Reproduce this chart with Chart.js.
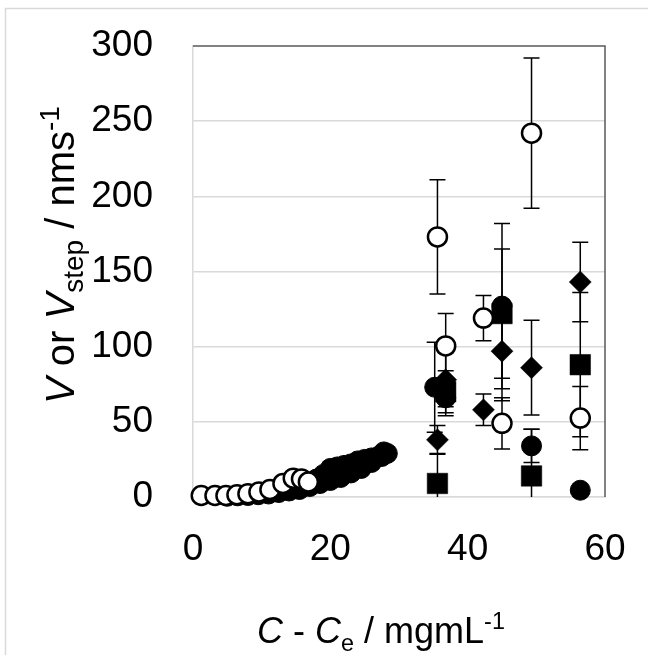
<!DOCTYPE html>
<html>
<head>
<meta charset="utf-8">
<script src="https://cdn.jsdelivr.net/npm/chart.js@4.4.0/dist/chart.umd.min.js"></script>
<style>
  html, body { margin: 0; padding: 0; background: #fff; }
  #wrap { width: 648px; height: 655px; position: relative; }
</style>
</head>
<body>
<div id="wrap"><canvas id="c" width="648" height="655"></canvas></div>
<script>
// ---- Data ----
const xTicks = [0, 20, 40, 60];
const yTicks = [0, 50, 100, 150, 200, 250, 300];

// Open circles
const ocX   = [1.2, 3.2, 4.8, 6.4, 8.0, 9.6, 11.2, 13.1, 14.6, 15.8, 16.8,
               35.6, 36.8, 42.3, 45, 49.3, 56.4];
const ocY   = [1, 1, 1, 1.5, 2.2, 3.3, 5, 9, 12.5, 12, 10,
               173, 100.5, 119, 49, 242, 52.5];
const ocErr = [0, 0, 0, 0, 0, 0, 0, 0, 0, 0, 0,
               38, 21.5, 15, 17, 50, 21];

// Filled diamonds
const dmX   = [35.6, 36.8, 42.3, 45, 49.3, 56.4];
const dmY   = [38, 78, 58, 97, 86, 143];
const dmErr = [9.5, 18, 10.5, 33, 31.5, 26.5];

// Filled squares
const sqX   = [35.6, 36.8, 45, 49.3, 56.4];
const sqY   = [9, 70, 122, 14, 88];
const sqErr = [20, 14, 43, 31, 48];

// Filled circles
const fcX   = [5, 6.5, 8, 9.5, 11, 12.5, 14, 15.5, 17, 18.5, 20, 21.5, 23, 24.5, 26, 27.5, 28.3,
               18, 19, 20, 21, 22, 23, 24, 25, 26, 27, 27.8,
               35.2, 36.8, 45, 49.3, 56.4];
const fcY   = [0.5, 0.8, 1, 1.5, 2, 3, 4, 5, 7, 9, 11, 13, 16, 19, 23, 27, 29,
               12, 15, 19, 20, 21, 22, 24, 25, 26, 27, 30,
               73, 66, 127, 34, 4.5];
const fcErr = [0, 0, 0, 0, 0, 0, 0, 0, 0, 0, 0, 0, 0, 0, 0, 0, 0,
               0, 0, 0, 0, 0, 0, 0, 0, 0, 0, 0,
               30, 12, 55, 11, 0];

const FONT = '"Liberation Sans", Arial, sans-serif';

function pts(xs, ys) { return xs.map((x, i) => ({ x: x, y: ys[i] })); }

// same order as datasets (index 0 is drawn on top by Chart.js)
const errorSets = [ocErr, dmErr, sqErr, fcErr];

const errorBarPlugin = {
  id: 'errbars',
  beforeDatasetsDraw(chart) {
    const ctx = chart.ctx, xs = chart.scales.x, ys = chart.scales.y, a = chart.chartArea;
    ctx.save();
    ctx.beginPath();
    ctx.rect(a.left, a.top - 1, a.right - a.left, a.bottom - a.top + 1);
    ctx.clip();
    ctx.strokeStyle = '#000';
    ctx.lineWidth = 1.5;
    chart.data.datasets.forEach((ds, di) => {
      const errs = errorSets[di];
      ds.data.forEach((p, i) => {
        const e = errs[i];
        if (!e) return;
        const px = xs.getPixelForValue(p.x);
        const y1 = ys.getPixelForValue(p.y + e);
        const y2 = ys.getPixelForValue(p.y - e);
        ctx.beginPath();
        ctx.moveTo(px, y1); ctx.lineTo(px, y2);
        ctx.moveTo(px - 8, y1); ctx.lineTo(px + 8, y1);
        ctx.moveTo(px - 8, y2); ctx.lineTo(px + 8, y2);
        ctx.stroke();
      });
    });
    ctx.restore();
  }
};

function drawRich(ctx, parts, cx, cy, size, angle, subScale) {
  ctx.save();
  ctx.translate(cx, cy);
  ctx.rotate(angle);
  let total = 0;
  const segs = parts.map(p => {
    const s = (p.sub || p.sup) ? size * subScale : size;
    const font = (p.it ? 'italic ' : '') + s + 'px ' + FONT;
    ctx.font = font;
    const w = ctx.measureText(p.t).width;
    total += w;
    return { t: p.t, font: font, w: w, dy: p.sub ? size * 0.22 : (p.sup ? -size * 0.38 : 0) };
  });
  let x = -total / 2;
  ctx.fillStyle = '#000';
  ctx.textBaseline = 'alphabetic';
  ctx.textAlign = 'left';
  segs.forEach(s => {
    ctx.font = s.font;
    ctx.fillText(s.t, x, size * 0.36 + s.dy);
    x += s.w;
  });
  ctx.restore();
}

const framePlugin = {
  id: 'frame',
  beforeDraw(chart) {
    const ctx = chart.ctx;
    ctx.save();
    ctx.fillStyle = '#fff';
    ctx.fillRect(0, 0, chart.width, chart.height);
    ctx.strokeStyle = '#d9d9d9';
    ctx.lineWidth = 1.5;
    ctx.strokeRect(5.5, 8.5, 800, 800);
    ctx.restore();
  },
  beforeDatasetsDraw(chart) {
    const ctx = chart.ctx, a = chart.chartArea;
    ctx.save();
    ctx.strokeStyle = '#595959';
    ctx.lineWidth = 1.5;
    ctx.beginPath();
    ctx.moveTo(a.left, a.top);
    ctx.lineTo(a.right, a.top);
    ctx.lineTo(a.right, a.bottom);
    ctx.stroke();
    ctx.restore();
  },
  afterDraw(chart) {
    const ctx = chart.ctx;
    drawRich(ctx, [
      { t: 'C', it: true }, { t: ' - ' }, { t: 'C', it: true }, { t: 'e', sub: true },
      { t: ' / mgmL' }, { t: '-1', sup: true }
    ], 381, 630, 36, 0, 0.65);
    drawRich(ctx, [
      { t: 'V', it: true }, { t: ' or ' }, { t: 'V', it: true }, { t: 'step', sub: true },
      { t: ' / nms' }, { t: '-1', sup: true }
    ], 60, 255, 40, -Math.PI / 2, 0.7);
  }
};

const common = { clip: false, showLine: false };

new Chart(document.getElementById('c'), {
  type: 'scatter',
  data: {
    datasets: [
      Object.assign({ label: 'open circle', data: pts(ocX, ocY), pointStyle: 'circle', pointRadius: 9.5,
        backgroundColor: '#fff', borderColor: '#000', borderWidth: 2.5 }, common),
      Object.assign({ label: 'diamond', data: pts(dmX, dmY), pointStyle: 'rectRot', pointRadius: 11,
        backgroundColor: '#000', borderColor: '#000', borderWidth: 0.5 }, common),
      Object.assign({ label: 'square', data: pts(sqX, sqY), pointStyle: 'rect', pointRadius: 14.5,
        backgroundColor: '#000', borderColor: '#000', borderWidth: 0.5 }, common),
      Object.assign({ label: 'filled circle', data: pts(fcX, fcY), pointStyle: 'circle', pointRadius: 10,
        backgroundColor: '#000', borderColor: '#000', borderWidth: 1 }, common)
    ]
  },
  options: {
    responsive: false,
    animation: false,
    events: [],
    layout: { padding: { top: 46, right: 43, bottom: 0, left: 0 } },
    plugins: { legend: { display: false }, tooltip: { enabled: false } },
    scales: {
      x: {
        type: 'linear', min: 0, max: 60,
        afterBuildTicks: (s) => { s.ticks = xTicks.map(v => ({ value: v })); },
        afterFit: (s) => { s.height = 158; s.paddingLeft = 0; s.paddingRight = 0; },
        grid: { display: true, drawOnChartArea: false, drawTicks: false },
        border: { display: true, color: '#d9d9d9', width: 1.5 },
        ticks: { color: '#000', font: { family: FONT, size: 37 }, padding: 31, maxRotation: 0 }
      },
      y: {
        type: 'linear', min: 0, max: 300,
        afterBuildTicks: (s) => { s.ticks = yTicks.map(v => ({ value: v })); },
        afterFit: (s) => { s.width = 193; s.paddingTop = 0; s.paddingBottom = 0; },
        grid: { color: (c) => c.tick && c.tick.value === 300 ? 'rgba(0,0,0,0)' : '#d9d9d9', lineWidth: 1.5, drawTicks: false },
        border: { display: true, color: '#d9d9d9', width: 1.5 },
        ticks: { color: '#000', font: { family: FONT, size: 37 }, padding: 40 }
      }
    }
  },
  plugins: [framePlugin, errorBarPlugin]
});
</script>
</body>
</html>
